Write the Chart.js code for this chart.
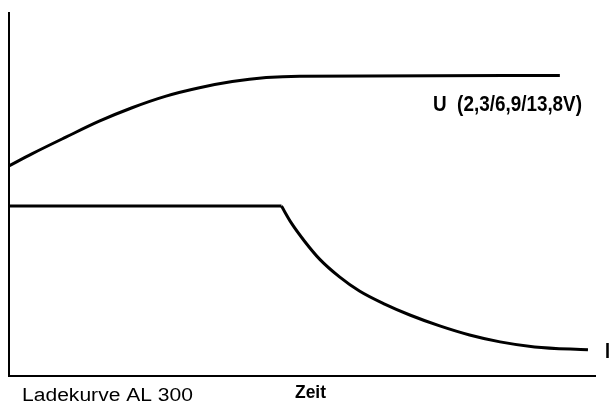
<!DOCTYPE html>
<html>
<head>
<meta charset="utf-8">
<script src="https://cdn.jsdelivr.net/npm/chart.js@4"></script>
<style>
  html, body { margin: 0; padding: 0; background: #fff; }
  #wrap { width: 611px; height: 412px; }
</style>
</head>
<body>
<div id="wrap"><canvas id="ladeChart" width="611" height="412"></canvas></div>
<script>
// Zeit (0..100) and values in % of axis height
const zeitU = [0, 3.9, 9.7, 15.4, 21.0, 26.8, 32.5, 38.1, 43.9, 49.6, 94.0];
const spannungU = [57.9, 61.2, 65.8, 70.2, 73.9, 77.1, 79.4, 81.1, 82.2, 82.6, 82.8];

// current: constant phase, then falling phase
const zeitIkonst = [0, 46.5];
const stromIkonst = [46.8, 46.8];
const zeitIfall = [46.5, 48.2, 50.4, 53.0, 56.4, 59.8, 64.1, 68.4, 73.5, 78.6, 83.8, 89.7, 98.8];
const stromIfall = [46.8, 42.1, 37.2, 32.2, 27.3, 23.4, 19.8, 16.8, 13.8, 11.3, 9.4, 8.0, 7.2];

const labelU = 'U  (2,3/6,9/13,8V)';
const labelI = 'I';
const captionLeft = 'Ladekurve AL 300';
const captionAxis = 'Zeit';

const toPoints = (xs, ys) => xs.map((x, i) => ({ x: x, y: ys[i] }));

function fitText(ctx, text, x, y, width) {
    const w = ctx.measureText(text).width;
    ctx.save();
    ctx.translate(x, y);
    ctx.scale(width / w, 1);
    ctx.fillText(text, 0, 0);
    ctx.restore();
}

// draws the free text around the plot
const textPlugin = {
    id: 'ladeText',
    afterDraw(chart) {
        const ctx = chart.ctx;
        ctx.save();
        ctx.fillStyle = '#000';
        ctx.textBaseline = 'alphabetic';
        ctx.textAlign = 'left';

        ctx.font = 'bold 22px "Liberation Sans", Arial, sans-serif';
        fitText(ctx, labelU, 433, 111, 149);
        fitText(ctx, labelI, 605, 358, 5);

        ctx.font = '18px "Liberation Sans", Arial, sans-serif';
        fitText(ctx, captionLeft, 22, 401, 171);

        ctx.font = 'bold 19px "Liberation Sans", Arial, sans-serif';
        fitText(ctx, captionAxis, 295, 398, 31);
        ctx.restore();
    }
};

const lineStyle = {
    borderColor: '#000', borderWidth: 3, pointRadius: 0,
    cubicInterpolationMode: 'monotone', fill: false
};

const ctx = document.getElementById('ladeChart').getContext('2d');
const ladeChart = new Chart(ctx, {
    type: 'line',
    data: {
        datasets: [
            { ...lineStyle, label: 'U', data: toPoints(zeitU, spannungU) },
            { ...lineStyle, label: 'I', data: toPoints(zeitIkonst, stromIkonst), tension: 0 },
            { ...lineStyle, label: 'I', data: toPoints(zeitIfall, stromIfall) }
        ]
    },
    options: {
        responsive: false,
        animation: false,
        layout: { padding: { left: 9, top: 13, right: 16, bottom: 36 } },
        plugins: { legend: { display: false }, tooltip: { enabled: false }, title: { display: false } },
        scales: {
            x: {
                type: 'linear', min: 0, max: 100,
                grid: { display: false, drawTicks: false, tickLength: 0 },
                border: { display: true, color: '#000', width: 2 },
                ticks: { display: false, padding: 0 }
            },
            y: {
                type: 'linear', min: 0, max: 100,
                grid: { display: false, drawTicks: false, tickLength: 0 },
                border: { display: true, color: '#000', width: 2 },
                ticks: { display: false, padding: 0 }
            }
        }
    },
    plugins: [textPlugin]
});
</script>
</body>
</html>
